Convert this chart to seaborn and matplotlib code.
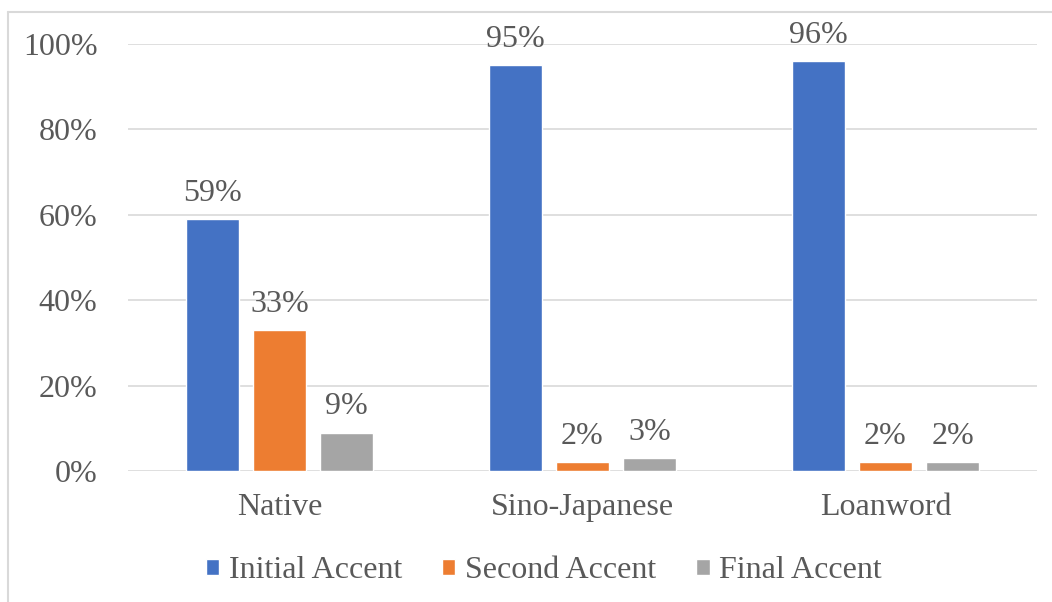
import pandas as pd
import matplotlib.pyplot as plt
import matplotlib.lines as mlines
import seaborn as sns

categories = ["Native", "Sino-Japanese", "Loanword"]
series = ["Initial Accent", "Second Accent", "Final Accent"]
initial = [59, 95, 96]
second = [33, 2, 2]
final = [9, 3, 2]
colors = ["#4472C4", "#ED7D31", "#A5A5A5"]
text_color = "#595959"

rows = []
for name, vals in zip(series, [initial, second, final]):
    for cat, v in zip(categories, vals):
        rows.append({"category": cat, "series": name, "value": v})
df = pd.DataFrame(rows)

sns.set_theme(style="white")
plt.rcParams["font.family"] = ["Liberation Serif", "DejaVu Serif"]
fs = 23

fig = plt.figure(figsize=(10.52, 6.02), dpi=100)
ax = fig.add_axes([0.1217, 0.2176, 0.864, 0.7093])

sns.barplot(data=df, x="category", y="value", hue="series", palette=colors,
            order=categories, hue_order=series, width=0.665, gap=0.22,
            saturation=1, ax=ax)

ax.set_xlim(-0.5, 2.5)
ax.set_ylim(0, 100)
ax.set_yticks(range(0, 101, 20))
ax.set_yticklabels([f"{t}%" for t in range(0, 101, 20)])
ax.set_xlabel("")
ax.set_ylabel("")
ax.yaxis.grid(True, color="#D9D9D9", linewidth=1.2)
ax.set_axisbelow(True)
for s in ax.spines.values():
    s.set_visible(False)
ax.tick_params(axis="y", length=0, pad=22, labelsize=fs, labelcolor=text_color)
ax.tick_params(axis="x", length=0, pad=16, labelsize=fs, labelcolor=text_color)

for cont in ax.containers:
    ax.bar_label(cont, fmt="%d%%", padding=8, fontsize=fs, color=text_color)

leg = ax.legend(loc="lower center", bbox_to_anchor=(0.517, -0.02), bbox_transform=fig.transFigure,
                ncol=3, frameon=False, fontsize=fs, handlelength=0.42, handleheight=0.42,
                handletextpad=0.3, columnspacing=1.25)
for t in leg.get_texts():
    t.set_color(text_color)

# chart border (left and top edges visible)
W, H = 1052, 602
fig.add_artist(mlines.Line2D([8 / W, 8 / W], [0, 1 - 12 / H], color="#D9D9D9", lw=1.5,
                             transform=fig.transFigure))
fig.add_artist(mlines.Line2D([8 / W, 1], [1 - 12 / H, 1 - 12 / H], color="#D9D9D9", lw=1.5,
                             transform=fig.transFigure))

fig.savefig("out.png", dpi=100, facecolor="white")
